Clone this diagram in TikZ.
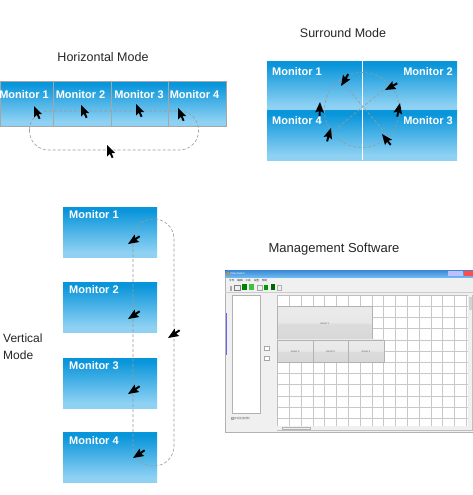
\documentclass[tikz,border=0pt]{standalone}
\usepackage{fontspec}
\setmainfont{Liberation Sans}
\newfontfamily\cjk{Noto Sans CJK SC}
\usetikzlibrary{calc}
\definecolor{mondark}{HTML}{0895DA}
\definecolor{monlight}{HTML}{8ED1F3}
\definecolor{dashgray}{HTML}{9A9A9A}
\definecolor{gridgray}{HTML}{C8C8C8}
\definecolor{winbg}{HTML}{F0F0F0}
\pgfdeclareverticalshading{monshade}{100bp}{color(0bp)=(monlight); color(30bp)=(monlight); color(72bp)=(mondark); color(100bp)=(mondark)}
\pgfdeclareverticalshading{blockshade}{100bp}{color(0bp)=(black!17); color(48bp)=(black!14); color(52bp)=(black!9); color(100bp)=(black!7)}
\pgfdeclareverticalshading{titleshade}{100bp}{color(0bp)=(blue!35!cyan!50!white); color(100bp)=(blue!55!cyan!75!black!85)}
\tikzset{
  monbox/.style={shading=monshade, inner sep=0pt, minimum width=#1},
  hbox/.style={monbox=#1, minimum height=45pt, draw=gray!70, line width=0.8pt},
  vbox/.style={monbox=94pt, minimum height=50pt},
  sbox/.style={monbox=190pt, minimum height=49.5pt},
  monlab/.style={text=white, font=\bfseries\fontsize{11}{13}\selectfont, inner sep=0pt},
  title/.style={font=\fontsize{12.5}{14}\selectfont, text=black!85, inner sep=0pt},
  dashy/.style={draw=dashgray, dash pattern=on 3pt off 2pt, line width=0.6pt},
  cursor/.pic={\fill[black] (0,0) -- (0,11.5) -- (2.8,8.9) -- (4.7,13.2) -- (6.5,12.4) -- (4.6,8.2) -- (8.2,8.2) -- cycle;},
  tiny/.style={font=\fontsize{2.6}{3}\selectfont, inner sep=0pt, text=black!60},
  asset/.style={shading=blockshade, draw=gray!60, line width=0.3pt, inner sep=0pt},
}
\begin{document}
\begin{tikzpicture}[x=1pt, y=-1pt]
\useasboundingbox (0,0) rectangle (473,495);
\fill[white] (0,0) rectangle (473,495);

% ---------- Horizontal mode ----------
\node[title] (htitle) at (103,57) {Horizontal Mode};
\node[hbox=53pt] (h1) at (26.5,103.5) {};
\node[hbox=58pt] (h2) at (82,103.5) {};
\node[hbox=57pt] (h3) at (139.5,103.5) {};
\node[hbox=58pt] (h4) at (197,103.5) {};
\node[monlab] (h1l) at (24,95) {Monitor 1};
\node[monlab] (h2l) at (80.5,95) {Monitor 2};
\node[monlab] (h3l) at (139,95) {Monitor 3};
\node[monlab] (h4l) at (194.5,95) {Monitor 4};
\draw[dashy, rounded corners=19pt] (29.5,111) rectangle (198.5,150);
\pic at (34,106) {cursor};
\pic at (81,105) {cursor};
\pic at (136,104) {cursor};
\pic at (178,108) {cursor};
\pic at (107,145) {cursor};

% ---------- Surround mode ----------
\node[title] (stitle) at (343,33) {Surround Mode};
\node[sbox] (s1) at (362,86) {};
\node[sbox] (s2) at (362,135.5) {};
\draw[white, line width=0.7pt] (s1.north) -- (s2.south);
\node[monlab, anchor=west] (s1l) at (272,72) {Monitor 1};
\node[monlab, anchor=east] (s2l) at (453,72) {Monitor 2};
\node[monlab, anchor=west] (s4l) at (272,121) {Monitor 4};
\node[monlab, anchor=east] (s3l) at (453,121) {Monitor 3};
\coordinate (sc) at (362,110);
\draw[dashy] (sc) circle[radius=37.5];
\draw[dashy] (342,82) -- (388,136);
\draw[dashy] (387,87) -- (336,129);
\pic[rotate=125] at (341,86) {cursor};
\pic[rotate=95] at (385,90) {cursor};
\pic[rotate=-35] at (400,103) {cursor};
\pic[rotate=15] at (382,134) {cursor};
\pic[rotate=-40] at (331,128) {cursor};
\pic[rotate=-25] at (320,102) {cursor};

% ---------- Vertical mode ----------
\node[vbox] (v1) at (110,232) {};
\node[vbox] (v2) at (110,307) {};
\node[vbox] (v3) at (110,383) {};
\node[vbox] (v4) at (110,457.5) {};
\node[monlab, anchor=north west] (v1l) at (69,210) {Monitor 1};
\node[monlab, anchor=north west] (v2l) at (69,285) {Monitor 2};
\node[monlab, anchor=north west] (v3l) at (69,361) {Monitor 3};
\node[monlab, anchor=north west] (v4l) at (69,436) {Monitor 4};
\node[title, font=\fontsize{12}{14}\selectfont, anchor=west, align=left] (vtitle) at (3,346.5) {Vertical\\[3pt]Mode};
\draw[dashy, rounded corners=20pt] (133,219) rectangle (174,466);
\pic[rotate=100] at (128,244) {cursor};
\pic[rotate=100] at (128,319) {cursor};
\pic[rotate=100] at (128,394) {cursor};
\pic[rotate=100] at (133,458) {cursor};
\pic[rotate=100] at (168,338) {cursor};

% ---------- Management software ----------
\node[title, font=\fontsize{13}{15}\selectfont] (mtitle) at (334,249) {Management Software};
% window
\node[draw=gray!60, line width=0.3pt, fill=winbg, inner sep=0pt, anchor=north west, minimum width=248pt, minimum height=162pt] (win) at (225,270) {};
\fill[shading=titleshade] (225.3,270.3) rectangle (473,277);
\fill[red!70!white] (464,270.8) rectangle (473,276.3);
\fill[blue!25!white] (448,271.3) rectangle (463,276);
\node[tiny, text=white, anchor=west] (wtitle) at (230,273.5) {VideoSwitch};
\fill[orange] (226.5,272) rectangle (228.5,275);
\node[tiny, anchor=west, text=black!80] (menu) at (229,280.5) {\cjk 文件\hspace{3pt}编辑\hspace{3pt}工具\hspace{3pt}设置\hspace{3pt}帮助};
% toolbar icons
\fill[gray!70] (230,286) rectangle (232,291);
\draw[gray, line width=0.4pt] (234,285) rectangle (240,290);
\fill[green!50!black] (242,284) rectangle (247,290);
\fill[green!50!gray] (249,284) rectangle (254,290);
\draw[gray!70, line width=0.3pt] (257,285) rectangle (262,290);
\fill[green!60!black] (264,285) rectangle (268,290);
\fill[green!40!black] (271,284) rectangle (275,290);
\draw[gray!60, line width=0.3pt] (277,285) rectangle (281,290);
\draw[gray!40, line width=0.3pt] (225.3,292.5) -- (472.7,292.5);
% left panel
\node[draw=gray!60, line width=0.3pt, fill=white, inner sep=0pt, anchor=north west, minimum width=28pt, minimum height=118pt] (lpanel) at (232,295) {};
\draw[blue!60, line width=0.8pt] (226,313) -- (226,355);
\node[draw=gray!70, line width=0.3pt, fill=white, minimum width=5pt, minimum height=4pt, inner sep=0pt] (b1) at (267,348.5) {};
\node[draw=gray!70, line width=0.3pt, fill=white, minimum width=5pt, minimum height=4pt, inner sep=0pt] (b2) at (267,358.5) {};
\node[draw=gray!70, fill=blue!20, line width=0.3pt, minimum width=2.2pt, minimum height=2.2pt, inner sep=0pt] (chkbox) at (232,418.5) {};
\node[tiny, anchor=west] (chk) at (234,418.5) {\cjk 自动连接控制};
% grid
\node[fill=white, inner sep=0pt, anchor=north west, minimum width=191pt, minimum height=131pt] (grid) at (277,295) {};
\foreach \i in {0,...,16} {
  \draw[gridgray, line width=0.4pt] ({277.3+11.8*\i},295) -- ({277.3+11.8*\i},426);
}
\foreach \j in {0,...,11} {
  \draw[gridgray, line width=0.4pt] (277,{295+11.2*\j}) -- (468,{295+11.2*\j});
}
\draw[gray!50, line width=0.3pt] (277,295) rectangle (472,430);
% scrollbars
\fill[gray!12] (468,295) rectangle (472,426);
\fill[gray!35] (468.5,297) rectangle (471.5,310);
\fill[gray!12] (277,426) rectangle (468,430);
\draw[gray!60, line width=0.3pt] (282,427) rectangle (310,429);
% blocks
\node[asset, anchor=north west, minimum width=94.4pt, minimum height=33.6pt] (a1) at (277.3,306.2) {};
\node[asset, anchor=north west, minimum width=35.4pt, minimum height=22.4pt] (a2) at (277.3,339.8) {};
\node[asset, anchor=north west, minimum width=35.4pt, minimum height=22.4pt] (a3) at (312.7,339.8) {};
\node[asset, anchor=north west, minimum width=35.4pt, minimum height=22.4pt] (a4) at (348.1,339.8) {};
\node[tiny] (a1l) at (a1.center) {Asset 1};
\node[tiny] (a2l) at (a2.center) {Asset 2};
\node[tiny] (a3l) at (a3.center) {Asset 3};
\node[tiny] (a4l) at (a4.center) {Asset 4};
\end{tikzpicture}
\end{document}
